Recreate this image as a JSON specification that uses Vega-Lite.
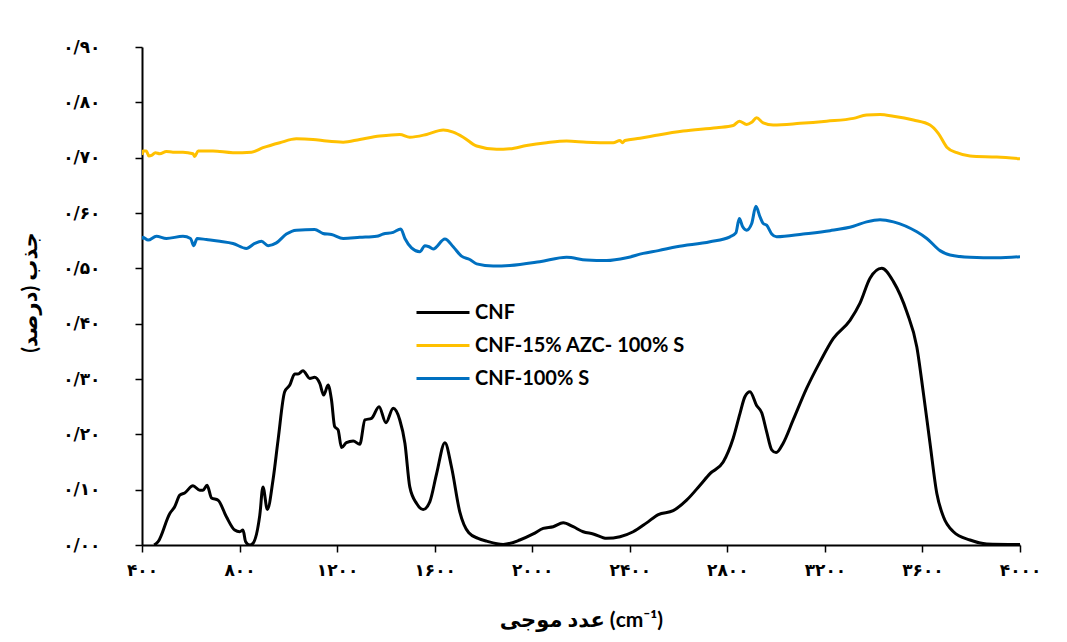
{
  "$schema": "https://vega.github.io/schema/vega-lite/v6.json",
  "width": 878,
  "height": 498,
  "autosize": {"type": "none"},
  "padding": {"left": 142, "top": 47, "right": 47, "bottom": 97},
  "background": "white",
  "config": {
    "view": {"stroke": null},
    "axis": {
      "grid": false,
      "domainColor": "#000000",
      "domainWidth": 2,
      "tickColor": "#000000",
      "tickWidth": 1.5,
      "tickSize": 7,
      "labelFont": "DejaVu Sans",
      "labelFontWeight": "bold",
      "labelColor": "#000000",
      "titleColor": "#000000",
      "titleFont": "Lato, DejaVu Sans",
      "titleFontWeight": "bold"
    },
    "legend": {
      "orient": "none",
      "legendX": 273,
      "legendY": 249,
      "padding": 0,
      "symbolType": "stroke",
      "symbolSize": 2809,
      "symbolStrokeWidth": 3,
      "labelFont": "Lato",
      "labelFontWeight": "bold",
      "labelFontSize": 20,
      "labelLimit": 400,
      "labelColor": "#000000",
      "labelOffset": 4,
      "clipHeight": 33,
      "rowPadding": 0
    }
  },
  "datasets": {
    "spectra": [
      {"s": "CNF", "x": 450, "y": 0.000}, {"s": "CNF", "x": 466, "y": 0.006}, {"s": "CNF", "x": 514, "y": 0.057}, {"s": "CNF", "x": 534, "y": 0.069},
      {"s": "CNF", "x": 555, "y": 0.090}, {"s": "CNF", "x": 575, "y": 0.094}, {"s": "CNF", "x": 609, "y": 0.107}, {"s": "CNF", "x": 637, "y": 0.099},
      {"s": "CNF", "x": 650, "y": 0.099}, {"s": "CNF", "x": 667, "y": 0.108}, {"s": "CNF", "x": 685, "y": 0.085}, {"s": "CNF", "x": 712, "y": 0.081},
      {"s": "CNF", "x": 746, "y": 0.051}, {"s": "CNF", "x": 780, "y": 0.027}, {"s": "CNF", "x": 801, "y": 0.024}, {"s": "CNF", "x": 814, "y": 0.027},
      {"s": "CNF", "x": 825, "y": 0.006}, {"s": "CNF", "x": 842, "y": 0.000}, {"s": "CNF", "x": 855, "y": 0.003}, {"s": "CNF", "x": 883, "y": 0.054},
      {"s": "CNF", "x": 896, "y": 0.105}, {"s": "CNF", "x": 914, "y": 0.064}, {"s": "CNF", "x": 937, "y": 0.117}, {"s": "CNF", "x": 958, "y": 0.190},
      {"s": "CNF", "x": 985, "y": 0.277}, {"s": "CNF", "x": 1006, "y": 0.289}, {"s": "CNF", "x": 1026, "y": 0.309}, {"s": "CNF", "x": 1040, "y": 0.309},
      {"s": "CNF", "x": 1060, "y": 0.315}, {"s": "CNF", "x": 1088, "y": 0.301}, {"s": "CNF", "x": 1108, "y": 0.303}, {"s": "CNF", "x": 1129, "y": 0.292},
      {"s": "CNF", "x": 1145, "y": 0.271}, {"s": "CNF", "x": 1163, "y": 0.289}, {"s": "CNF", "x": 1177, "y": 0.262}, {"s": "CNF", "x": 1190, "y": 0.214},
      {"s": "CNF", "x": 1204, "y": 0.208}, {"s": "CNF", "x": 1218, "y": 0.176}, {"s": "CNF", "x": 1238, "y": 0.185}, {"s": "CNF", "x": 1266, "y": 0.188},
      {"s": "CNF", "x": 1293, "y": 0.182}, {"s": "CNF", "x": 1314, "y": 0.226}, {"s": "CNF", "x": 1341, "y": 0.229}, {"s": "CNF", "x": 1372, "y": 0.250},
      {"s": "CNF", "x": 1400, "y": 0.221}, {"s": "CNF", "x": 1430, "y": 0.247}, {"s": "CNF", "x": 1457, "y": 0.226}, {"s": "CNF", "x": 1478, "y": 0.184},
      {"s": "CNF", "x": 1498, "y": 0.105}, {"s": "CNF", "x": 1526, "y": 0.075}, {"s": "CNF", "x": 1553, "y": 0.064}, {"s": "CNF", "x": 1580, "y": 0.078},
      {"s": "CNF", "x": 1608, "y": 0.129}, {"s": "CNF", "x": 1642, "y": 0.185}, {"s": "CNF", "x": 1669, "y": 0.141}, {"s": "CNF", "x": 1703, "y": 0.060},
      {"s": "CNF", "x": 1740, "y": 0.022}, {"s": "CNF", "x": 1778, "y": 0.012}, {"s": "CNF", "x": 1813, "y": 0.007}, {"s": "CNF", "x": 1881, "y": 0.001},
      {"s": "CNF", "x": 1949, "y": 0.009}, {"s": "CNF", "x": 2004, "y": 0.020}, {"s": "CNF", "x": 2045, "y": 0.030}, {"s": "CNF", "x": 2086, "y": 0.033},
      {"s": "CNF", "x": 2127, "y": 0.040}, {"s": "CNF", "x": 2168, "y": 0.033}, {"s": "CNF", "x": 2209, "y": 0.024}, {"s": "CNF", "x": 2250, "y": 0.020},
      {"s": "CNF", "x": 2305, "y": 0.012}, {"s": "CNF", "x": 2360, "y": 0.015}, {"s": "CNF", "x": 2414, "y": 0.024}, {"s": "CNF", "x": 2469, "y": 0.040},
      {"s": "CNF", "x": 2517, "y": 0.055}, {"s": "CNF", "x": 2578, "y": 0.062}, {"s": "CNF", "x": 2633, "y": 0.081}, {"s": "CNF", "x": 2688, "y": 0.108},
      {"s": "CNF", "x": 2729, "y": 0.129}, {"s": "CNF", "x": 2783, "y": 0.150}, {"s": "CNF", "x": 2824, "y": 0.193}, {"s": "CNF", "x": 2852, "y": 0.238},
      {"s": "CNF", "x": 2872, "y": 0.268}, {"s": "CNF", "x": 2893, "y": 0.277}, {"s": "CNF", "x": 2920, "y": 0.252}, {"s": "CNF", "x": 2941, "y": 0.239},
      {"s": "CNF", "x": 2961, "y": 0.205}, {"s": "CNF", "x": 2982, "y": 0.172}, {"s": "CNF", "x": 3000, "y": 0.167}, {"s": "CNF", "x": 3029, "y": 0.184},
      {"s": "CNF", "x": 3070, "y": 0.226}, {"s": "CNF", "x": 3125, "y": 0.283}, {"s": "CNF", "x": 3180, "y": 0.331}, {"s": "CNF", "x": 3234, "y": 0.373},
      {"s": "CNF", "x": 3303, "y": 0.406}, {"s": "CNF", "x": 3344, "y": 0.437}, {"s": "CNF", "x": 3385, "y": 0.482}, {"s": "CNF", "x": 3433, "y": 0.500},
      {"s": "CNF", "x": 3481, "y": 0.476}, {"s": "CNF", "x": 3536, "y": 0.421}, {"s": "CNF", "x": 3577, "y": 0.358}, {"s": "CNF", "x": 3604, "y": 0.274},
      {"s": "CNF", "x": 3631, "y": 0.184}, {"s": "CNF", "x": 3659, "y": 0.093}, {"s": "CNF", "x": 3686, "y": 0.051}, {"s": "CNF", "x": 3727, "y": 0.024},
      {"s": "CNF", "x": 3795, "y": 0.009}, {"s": "CNF", "x": 3864, "y": 0.002}, {"s": "CNF", "x": 4000, "y": 0.001},

      {"s": "CNF-15% AZC- 100% S", "x": 400, "y": 0.705}, {"s": "CNF-15% AZC- 100% S", "x": 404, "y": 0.712}, {"s": "CNF-15% AZC- 100% S", "x": 418, "y": 0.712},
      {"s": "CNF-15% AZC- 100% S", "x": 428, "y": 0.703}, {"s": "CNF-15% AZC- 100% S", "x": 439, "y": 0.704}, {"s": "CNF-15% AZC- 100% S", "x": 455, "y": 0.709},
      {"s": "CNF-15% AZC- 100% S", "x": 473, "y": 0.707}, {"s": "CNF-15% AZC- 100% S", "x": 500, "y": 0.711}, {"s": "CNF-15% AZC- 100% S", "x": 527, "y": 0.710},
      {"s": "CNF-15% AZC- 100% S", "x": 568, "y": 0.710}, {"s": "CNF-15% AZC- 100% S", "x": 609, "y": 0.707}, {"s": "CNF-15% AZC- 100% S", "x": 616, "y": 0.702},
      {"s": "CNF-15% AZC- 100% S", "x": 630, "y": 0.712}, {"s": "CNF-15% AZC- 100% S", "x": 691, "y": 0.712}, {"s": "CNF-15% AZC- 100% S", "x": 773, "y": 0.709},
      {"s": "CNF-15% AZC- 100% S", "x": 849, "y": 0.710}, {"s": "CNF-15% AZC- 100% S", "x": 896, "y": 0.718}, {"s": "CNF-15% AZC- 100% S", "x": 965, "y": 0.727},
      {"s": "CNF-15% AZC- 100% S", "x": 1033, "y": 0.734}, {"s": "CNF-15% AZC- 100% S", "x": 1101, "y": 0.733}, {"s": "CNF-15% AZC- 100% S", "x": 1156, "y": 0.730},
      {"s": "CNF-15% AZC- 100% S", "x": 1225, "y": 0.728}, {"s": "CNF-15% AZC- 100% S", "x": 1293, "y": 0.733}, {"s": "CNF-15% AZC- 100% S", "x": 1375, "y": 0.739},
      {"s": "CNF-15% AZC- 100% S", "x": 1457, "y": 0.742}, {"s": "CNF-15% AZC- 100% S", "x": 1498, "y": 0.737}, {"s": "CNF-15% AZC- 100% S", "x": 1567, "y": 0.742},
      {"s": "CNF-15% AZC- 100% S", "x": 1635, "y": 0.750}, {"s": "CNF-15% AZC- 100% S", "x": 1676, "y": 0.746}, {"s": "CNF-15% AZC- 100% S", "x": 1717, "y": 0.737},
      {"s": "CNF-15% AZC- 100% S", "x": 1772, "y": 0.721}, {"s": "CNF-15% AZC- 100% S", "x": 1854, "y": 0.715}, {"s": "CNF-15% AZC- 100% S", "x": 1908, "y": 0.716},
      {"s": "CNF-15% AZC- 100% S", "x": 1977, "y": 0.722}, {"s": "CNF-15% AZC- 100% S", "x": 2059, "y": 0.727}, {"s": "CNF-15% AZC- 100% S", "x": 2141, "y": 0.730},
      {"s": "CNF-15% AZC- 100% S", "x": 2223, "y": 0.728}, {"s": "CNF-15% AZC- 100% S", "x": 2332, "y": 0.727}, {"s": "CNF-15% AZC- 100% S", "x": 2360, "y": 0.731},
      {"s": "CNF-15% AZC- 100% S", "x": 2370, "y": 0.727}, {"s": "CNF-15% AZC- 100% S", "x": 2380, "y": 0.731}, {"s": "CNF-15% AZC- 100% S", "x": 2442, "y": 0.735},
      {"s": "CNF-15% AZC- 100% S", "x": 2517, "y": 0.741}, {"s": "CNF-15% AZC- 100% S", "x": 2619, "y": 0.748}, {"s": "CNF-15% AZC- 100% S", "x": 2756, "y": 0.754},
      {"s": "CNF-15% AZC- 100% S", "x": 2824, "y": 0.758}, {"s": "CNF-15% AZC- 100% S", "x": 2849, "y": 0.766}, {"s": "CNF-15% AZC- 100% S", "x": 2879, "y": 0.760},
      {"s": "CNF-15% AZC- 100% S", "x": 2900, "y": 0.764}, {"s": "CNF-15% AZC- 100% S", "x": 2920, "y": 0.772}, {"s": "CNF-15% AZC- 100% S", "x": 2947, "y": 0.763},
      {"s": "CNF-15% AZC- 100% S", "x": 2988, "y": 0.759}, {"s": "CNF-15% AZC- 100% S", "x": 3098, "y": 0.762}, {"s": "CNF-15% AZC- 100% S", "x": 3207, "y": 0.766},
      {"s": "CNF-15% AZC- 100% S", "x": 3317, "y": 0.771}, {"s": "CNF-15% AZC- 100% S", "x": 3371, "y": 0.777}, {"s": "CNF-15% AZC- 100% S", "x": 3426, "y": 0.778},
      {"s": "CNF-15% AZC- 100% S", "x": 3481, "y": 0.775}, {"s": "CNF-15% AZC- 100% S", "x": 3563, "y": 0.768}, {"s": "CNF-15% AZC- 100% S", "x": 3631, "y": 0.759},
      {"s": "CNF-15% AZC- 100% S", "x": 3665, "y": 0.744}, {"s": "CNF-15% AZC- 100% S", "x": 3700, "y": 0.719}, {"s": "CNF-15% AZC- 100% S", "x": 3741, "y": 0.709},
      {"s": "CNF-15% AZC- 100% S", "x": 3795, "y": 0.703}, {"s": "CNF-15% AZC- 100% S", "x": 3905, "y": 0.701}, {"s": "CNF-15% AZC- 100% S", "x": 4000, "y": 0.698},

      {"s": "CNF-100% S", "x": 400, "y": 0.552}, {"s": "CNF-100% S", "x": 404, "y": 0.556}, {"s": "CNF-100% S", "x": 425, "y": 0.551},
      {"s": "CNF-100% S", "x": 459, "y": 0.558}, {"s": "CNF-100% S", "x": 500, "y": 0.554}, {"s": "CNF-100% S", "x": 568, "y": 0.558},
      {"s": "CNF-100% S", "x": 599, "y": 0.554}, {"s": "CNF-100% S", "x": 612, "y": 0.541}, {"s": "CNF-100% S", "x": 626, "y": 0.554},
      {"s": "CNF-100% S", "x": 664, "y": 0.552}, {"s": "CNF-100% S", "x": 719, "y": 0.549}, {"s": "CNF-100% S", "x": 773, "y": 0.545},
      {"s": "CNF-100% S", "x": 828, "y": 0.536}, {"s": "CNF-100% S", "x": 862, "y": 0.545}, {"s": "CNF-100% S", "x": 890, "y": 0.549},
      {"s": "CNF-100% S", "x": 917, "y": 0.541}, {"s": "CNF-100% S", "x": 951, "y": 0.546}, {"s": "CNF-100% S", "x": 992, "y": 0.562},
      {"s": "CNF-100% S", "x": 1033, "y": 0.569}, {"s": "CNF-100% S", "x": 1108, "y": 0.570}, {"s": "CNF-100% S", "x": 1142, "y": 0.563},
      {"s": "CNF-100% S", "x": 1177, "y": 0.561}, {"s": "CNF-100% S", "x": 1225, "y": 0.554}, {"s": "CNF-100% S", "x": 1293, "y": 0.556},
      {"s": "CNF-100% S", "x": 1362, "y": 0.558}, {"s": "CNF-100% S", "x": 1389, "y": 0.562}, {"s": "CNF-100% S", "x": 1430, "y": 0.565},
      {"s": "CNF-100% S", "x": 1461, "y": 0.571}, {"s": "CNF-100% S", "x": 1478, "y": 0.554}, {"s": "CNF-100% S", "x": 1505, "y": 0.537},
      {"s": "CNF-100% S", "x": 1539, "y": 0.530}, {"s": "CNF-100% S", "x": 1560, "y": 0.541}, {"s": "CNF-100% S", "x": 1577, "y": 0.539},
      {"s": "CNF-100% S", "x": 1594, "y": 0.535}, {"s": "CNF-100% S", "x": 1642, "y": 0.553}, {"s": "CNF-100% S", "x": 1676, "y": 0.539},
      {"s": "CNF-100% S", "x": 1710, "y": 0.522}, {"s": "CNF-100% S", "x": 1744, "y": 0.516}, {"s": "CNF-100% S", "x": 1772, "y": 0.508},
      {"s": "CNF-100% S", "x": 1840, "y": 0.504}, {"s": "CNF-100% S", "x": 1908, "y": 0.505}, {"s": "CNF-100% S", "x": 2031, "y": 0.512},
      {"s": "CNF-100% S", "x": 2141, "y": 0.520}, {"s": "CNF-100% S", "x": 2223, "y": 0.515}, {"s": "CNF-100% S", "x": 2305, "y": 0.514},
      {"s": "CNF-100% S", "x": 2387, "y": 0.519}, {"s": "CNF-100% S", "x": 2455, "y": 0.527}, {"s": "CNF-100% S", "x": 2517, "y": 0.532},
      {"s": "CNF-100% S", "x": 2592, "y": 0.539}, {"s": "CNF-100% S", "x": 2729, "y": 0.548}, {"s": "CNF-100% S", "x": 2811, "y": 0.557},
      {"s": "CNF-100% S", "x": 2835, "y": 0.564}, {"s": "CNF-100% S", "x": 2849, "y": 0.590}, {"s": "CNF-100% S", "x": 2863, "y": 0.575},
      {"s": "CNF-100% S", "x": 2879, "y": 0.569}, {"s": "CNF-100% S", "x": 2900, "y": 0.581}, {"s": "CNF-100% S", "x": 2917, "y": 0.612},
      {"s": "CNF-100% S", "x": 2934, "y": 0.593}, {"s": "CNF-100% S", "x": 2947, "y": 0.581}, {"s": "CNF-100% S", "x": 2961, "y": 0.578},
      {"s": "CNF-100% S", "x": 2982, "y": 0.562}, {"s": "CNF-100% S", "x": 3002, "y": 0.557}, {"s": "CNF-100% S", "x": 3111, "y": 0.562},
      {"s": "CNF-100% S", "x": 3221, "y": 0.568}, {"s": "CNF-100% S", "x": 3317, "y": 0.576}, {"s": "CNF-100% S", "x": 3371, "y": 0.584},
      {"s": "CNF-100% S", "x": 3426, "y": 0.588}, {"s": "CNF-100% S", "x": 3481, "y": 0.584}, {"s": "CNF-100% S", "x": 3577, "y": 0.566},
      {"s": "CNF-100% S", "x": 3618, "y": 0.554}, {"s": "CNF-100% S", "x": 3672, "y": 0.532}, {"s": "CNF-100% S", "x": 3713, "y": 0.524},
      {"s": "CNF-100% S", "x": 3795, "y": 0.520}, {"s": "CNF-100% S", "x": 3905, "y": 0.519}, {"s": "CNF-100% S", "x": 4000, "y": 0.521}
    ]
  },
  "data": {"name": "spectra"},
  "mark": {"type": "line", "strokeWidth": 3, "interpolate": "monotone", "clip": true},
  "encoding": {
    "x": {
      "field": "x",
      "type": "quantitative",
      "scale": {"domain": [400, 4000], "nice": false, "zero": false},
      "axis": {
        "values": [400, 800, 1200, 1600, 2000, 2400, 2800, 3200, 3600, 4000],
        "labelExpr": "replace(replace(replace(replace(replace(replace(replace(replace(replace(replace(format(datum.value, 'd'), regexp('0','g'), '۰'), regexp('1','g'), '۱'), regexp('2','g'), '۲'), regexp('3','g'), '۳'), regexp('4','g'), '۴'), regexp('5','g'), '۵'), regexp('6','g'), '۶'), regexp('7','g'), '۷'), regexp('8','g'), '۸'), regexp('9','g'), '۹')",
        "labelFontSize": 17,
        "labelPadding": 10,
        "labelFlush": false,
        "title": "عدد موجی (cm⁻¹)",
        "titleFontSize": 21,
        "titleX": 439,
        "titleY": 75,
        "titleAlign": "center",
        "titleBaseline": "middle"
      }
    },
    "y": {
      "field": "y",
      "type": "quantitative",
      "scale": {"domain": [0, 0.9], "nice": false},
      "axis": {
        "values": [0, 0.1, 0.2, 0.3, 0.4, 0.5, 0.6, 0.7, 0.8, 0.9],
        "labelExpr": "replace(replace(replace(replace(replace(replace(replace(replace(replace(replace(replace(format(datum.value, '.2f'), '.', '/'), regexp('0','g'), '۰'), regexp('1','g'), '۱'), regexp('2','g'), '۲'), regexp('3','g'), '۳'), regexp('4','g'), '۴'), regexp('5','g'), '۵'), regexp('6','g'), '۶'), regexp('7','g'), '۷'), regexp('8','g'), '۸'), regexp('9','g'), '۹')",
        "labelFontSize": 17,
        "labelPadding": 35,
        "labelFlush": false,
        "title": "جذب (درصد)",
        "titleFontSize": 21,
        "titleAngle": -90,
        "titleX": -112,
        "titleY": 245,
        "titleAlign": "center",
        "titleBaseline": "middle"
      }
    },
    "color": {
      "field": "s",
      "type": "nominal",
      "scale": {
        "domain": ["CNF", "CNF-15% AZC- 100% S", "CNF-100% S"],
        "range": ["#000000", "#FFC000", "#0070C0"]
      },
      "legend": {"title": null}
    }
  }
}
